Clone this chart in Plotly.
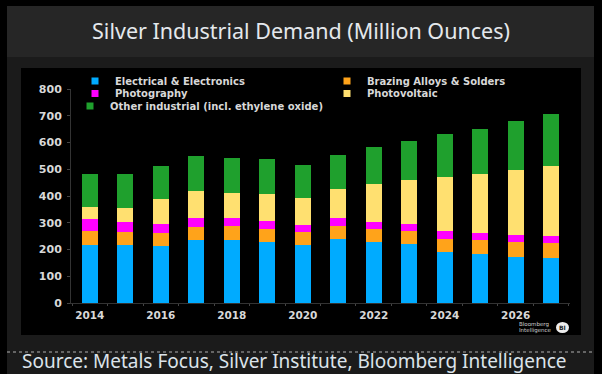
import plotly.graph_objects as go

years = list(range(2014, 2028))
electrical = [218, 215, 213, 234, 234, 227, 218, 238, 229, 220, 189, 182, 172, 167]
brazing = [52, 50, 47, 50, 54, 51, 46, 48, 47, 50, 51, 53, 56, 56]
photography = [43, 39, 35, 34, 30, 30, 27, 30, 28, 26, 28, 26, 27, 28]
photovoltaic = [46, 53, 94, 100, 93, 99, 101, 110, 141, 162, 203, 223, 243, 263]
other = [123, 125, 123, 130, 132, 132, 124, 129, 139, 148, 159, 168, 181, 191]

names = ["Electrical & Electronics", "Brazing Alloys & Solders", "Photography", "Photovoltaic",
         "Other industrial (incl. ethylene oxide)"]
series = [electrical, brazing, photography, photovoltaic, other]
colors = ["#00ABFF", "#FFA31A", "#FF00FF", "#FFE070", "#1FA02D"]
title = "Silver Industrial Demand (Million Ounces)"
source = "Source: Metals Focus, Silver Institute, Bloomberg Intelligence"

W, H = 602, 374
def px(v): return v / W
def py(v): return 1 - v / H

legend_ids = ["legend", "legend2", "legend3", "legend4", "legend5"]
# left edge and vertical centre of each legend entry, in picture pixels
legend_pos = [(75, 81), (327, 81), (75, 93.5), (327, 93.5), (70, 106)]

fig = go.Figure()
for n, s, c, lid in zip(names, series, colors, legend_ids):
    fig.add_trace(go.Bar(x=years, y=s, name=n, marker=dict(color=c, line=dict(width=0)), showlegend=False))
    fig.add_trace(go.Scatter(x=[None], y=[None], name=n, mode="markers", legend=lid,
                             marker=dict(symbol="square", size=7, color=c)))

legends = {
    lid: dict(x=px(x), y=py(y), xanchor="left", yanchor="middle", bgcolor="rgba(0,0,0,0)",
              font=dict(family="DejaVu Sans", size=10, color="#D8D8D8", weight="bold"))
    for lid, (x, y) in zip(legend_ids, legend_pos)
}

shapes = [
    dict(type="rect", xref="paper", yref="paper", x0=px(7), x1=px(594), y0=py(6), y1=py(374), fillcolor="#1B1B1B", line_width=0, layer="below"),
    dict(type="rect", xref="paper", yref="paper", x0=px(7), x1=px(594), y0=py(6), y1=py(57), fillcolor="#262626", line_width=0, layer="below"),
    dict(type="rect", xref="paper", yref="paper", x0=px(21), x1=px(581), y0=py(68), y1=py(335), fillcolor="#000000", line_width=0, layer="below"),
    dict(type="line", xref="paper", yref="paper", x0=px(7), x1=px(594), y0=py(352), y1=py(352), line=dict(color="#B0B0B0", width=1, dash="dot"), layer="below"),
    dict(type="circle", xref="paper", yref="paper", x0=px(556), x1=px(569), y0=py(322), y1=py(333), fillcolor="#EDEDED", line_width=0),
]
small = dict(family="DejaVu Sans", size=5.5, color="#D0D0D0")
ann = [
    dict(text=source, x=px(20), y=py(360.5), xref="paper", yref="paper", xanchor="left", yanchor="middle", showarrow=False,
         font=dict(family="Noto Sans", size=19, color="#DCE3EA")),
    dict(text="Bloomberg", x=px(517), y=py(324.5), xref="paper", yref="paper", xanchor="left", yanchor="middle",
         showarrow=False, font=small),
    dict(text="Intelligence", x=px(517), y=py(330.5), xref="paper", yref="paper", xanchor="left", yanchor="middle",
         showarrow=False, font=small),
    dict(text="BI", x=px(562.5), y=py(327.5), xref="paper", yref="paper", xanchor="center", yanchor="middle",
         showarrow=False, font=dict(family="DejaVu Sans", size=6, color="#222222", weight="bold")),
]
fig.update_layout(
    width=W, height=H, autosize=False, barmode="stack", bargap=0.55,
    paper_bgcolor="#000000", plot_bgcolor="rgba(0,0,0,0)",
    margin=dict(l=0, r=0, t=0, b=0, pad=0, autoexpand=False),
    title=dict(text=title, x=301 / W, xanchor="center", y=py(31), yanchor="middle",
               font=dict(family="Noto Sans", size=21.5, color="#E4E8EC")),
    font=dict(family="DejaVu Sans", color="#D8D8D8", size=9),
    shapes=shapes, annotations=ann,
    xaxis=dict(domain=[px(71), px(570)], range=[2013.47, 2027.53], tickvals=years[::2], ticks="", showgrid=False, zeroline=False,
               showline=True, linecolor="#333333", linewidth=1, ticklabelstandoff=2,
               minor=dict(tick0=2014.5, dtick=1, ticks="outside", ticklen=2, tickcolor="#444444", showgrid=False),
               tickfont=dict(family="DejaVu Sans", size=10.5, color="#D8D8D8", weight="bold")),
    yaxis=dict(domain=[py(303), py(89)], range=[0, 800], dtick=100, ticks="outside", ticklen=3, tickcolor="#444444", showgrid=False, zeroline=False,
               showline=True, linecolor="#333333", linewidth=1, ticklabelstandoff=3,
               tickfont=dict(family="DejaVu Sans", size=11, color="#D8D8D8", weight="bold")),
    **legends,
)
fig.write_html("out.html", config=dict(displayModeBar=False),
               post_script="document.body.style.margin='0';document.body.style.background='#000';")
